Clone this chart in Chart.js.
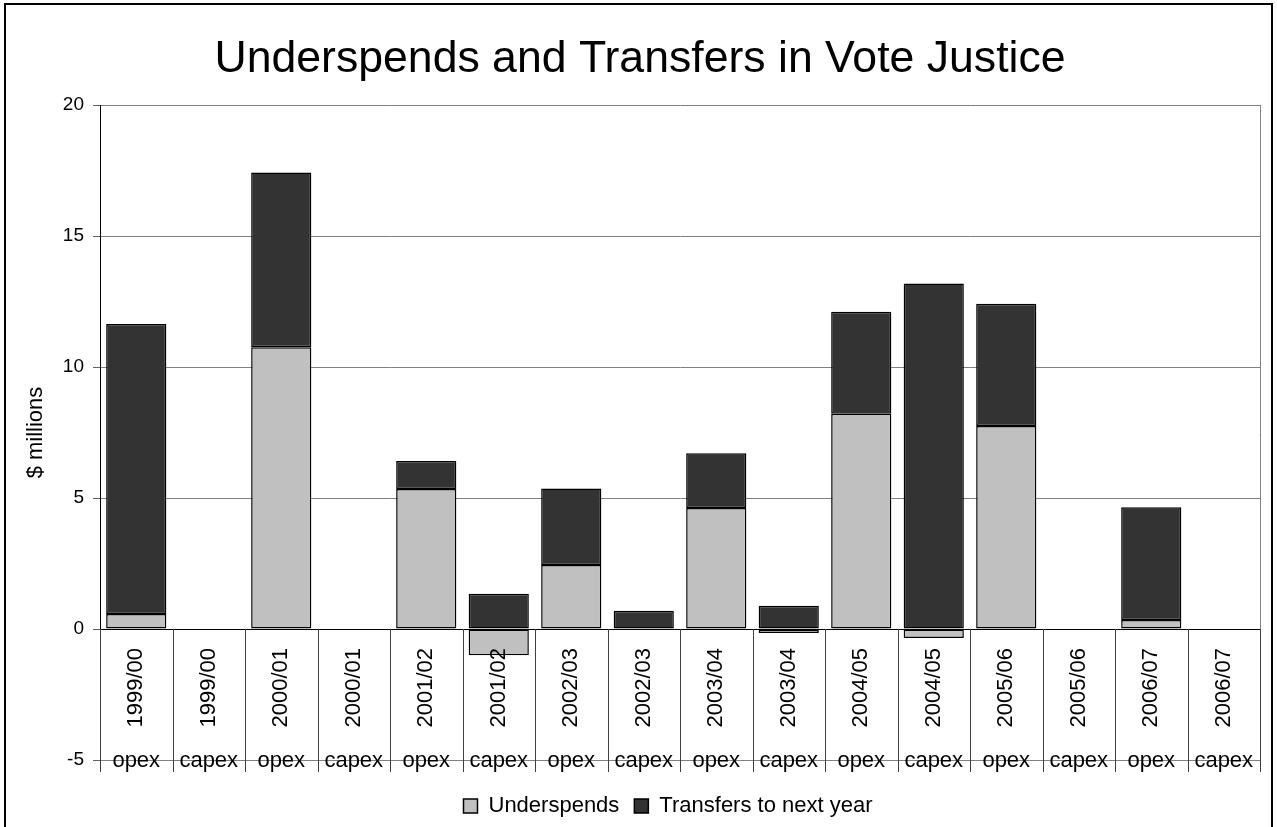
<!DOCTYPE html>
<html lang="en">
<head>
<meta charset="UTF-8">
<title>Underspends and Transfers in Vote Justice</title>
<script src="https://cdn.jsdelivr.net/npm/chart.js"></script>
<style>
  html, body { margin: 0; padding: 0; background: #fff; }
  #wrap { width: 1277px; height: 827px; }
</style>
</head>
<body>
<div id="wrap"><canvas id="chart" width="1277" height="827"></canvas></div>
<script>
const years = ['1999/00', '1999/00', '2000/01', '2000/01', '2001/02', '2001/02', '2002/03', '2002/03',
               '2003/04', '2003/04', '2004/05', '2004/05', '2005/06', '2005/06', '2006/07', '2006/07'];
const spendTypes = ['opex', 'capex', 'opex', 'capex', 'opex', 'capex', 'opex', 'capex',
                    'opex', 'capex', 'opex', 'capex', 'opex', 'capex', 'opex', 'capex'];
// $ millions
const underspends = [0.57, null, 10.75, null, 5.34, -1.0, 2.44, null, 4.62, -0.15, 8.22, -0.34, 7.75, null, 0.34, null];
const transfers   = [11.07, null, 6.67, null, 1.07, 1.35, 2.92, 0.70, 2.09, 0.89, 3.89, 13.19, 4.66, null, 4.31, null];
const yMin = -5, yMax = 20, yStep = 5;

const FONT = "'Liberation Sans', Arial, sans-serif";

// outer frame + right edge of plot area
const frame = {
  id: 'frame',
  beforeDraw(chart) {
    const {ctx, chartArea} = chart;
    ctx.save();
    ctx.fillStyle = '#fff';
    ctx.fillRect(0, 0, chart.width, chart.height);
    ctx.strokeStyle = '#000';
    ctx.lineWidth = 2;
    ctx.beginPath();
    ctx.moveTo(5, chart.height + 5);
    ctx.lineTo(5, 4);
    ctx.lineTo(1272, 4);
    ctx.lineTo(1272, chart.height + 5);
    ctx.stroke();
    ctx.strokeStyle = '#808080';
    ctx.lineWidth = 1;
    ctx.beginPath();
    ctx.moveTo(Math.round(chartArea.right) + 0.5, chartArea.top);
    ctx.lineTo(Math.round(chartArea.right) + 0.5, chartArea.bottom);
    ctx.stroke();
    ctx.restore();
  },
  afterLayout(chart) {
    // Excel puts title and legend a bit right of the canvas centre
    chart.titleBlock.left += 10;
    chart.titleBlock.right += 10;
    chart.legend.left += 38;
    chart.legend.right += 38;
  }
};

// two-level category labels sitting between 0 and -5
const categoryLabels = {
  id: 'categoryLabels',
  afterDatasetsDraw(chart) {
    const {ctx, chartArea, scales: {x, y}} = chart;
    const zero = y.getPixelForValue(0);
    ctx.save();
    ctx.strokeStyle = '#404040';
    ctx.lineWidth = 1;
    ctx.beginPath();
    for (let i = 0; i <= years.length; i++) {
      const px = Math.round(x.getPixelForValue(i - 0.5)) + 0.5;
      ctx.moveTo(px, zero);
      ctx.lineTo(px, chartArea.bottom + 12);
    }
    ctx.stroke();

    ctx.fillStyle = '#000';
    ctx.font = '22px ' + FONT;
    for (let i = 0; i < years.length; i++) {
      const cx = x.getPixelForValue(i);
      ctx.save();
      ctx.translate(cx, zero + 19);
      ctx.rotate(-Math.PI / 2);
      ctx.textAlign = 'right';
      ctx.textBaseline = 'middle';
      ctx.fillText(years[i], 0, 0);
      ctx.restore();

      ctx.textAlign = 'center';
      ctx.textBaseline = 'alphabetic';
      ctx.fillText(spendTypes[i], cx, chartArea.bottom + 7);
    }
    ctx.restore();
  }
};

new Chart(document.getElementById('chart'), {
  type: 'bar',
  data: {
    labels: years,
    datasets: [
      {
        label: 'Underspends',
        data: underspends,
        backgroundColor: '#c0c0c0',
        borderColor: '#000',
        borderWidth: 1.5,
        borderSkipped: false
      },
      {
        label: 'Transfers to next year',
        data: transfers,
        backgroundColor: '#333333',
        borderColor: '#000',
        borderWidth: 1.5,
        borderSkipped: false
      }
    ]
  },
  options: {
    responsive: false,
    animation: false,
    events: [],
    barPercentage: 0.83,
    categoryPercentage: 1,
    layout: { padding: { left: 0, right: 17, top: 0, bottom: 0 } },
    plugins: {
      title: {
        display: true,
        text: 'Underspends and Transfers in Vote Justice',
        color: '#000',
        font: { family: FONT, size: 44.6, weight: 'normal' },
        padding: { top: 32.8, bottom: 18.7 }
      },
      legend: {
        position: 'bottom',
        labels: {
          color: '#000',
          font: { family: FONT, size: 22 },
          boxWidth: 14,
          boxHeight: 14,
          padding: 15
        }
      },
      tooltip: { enabled: false }
    },
    scales: {
      x: {
        stacked: true,
        grid: { display: false },
        border: { display: false },
        ticks: { display: false },
        afterFit: (scale) => { scale.height = 20; }
      },
      y: {
        stacked: true,
        min: yMin,
        max: yMax,
        ticks: {
          stepSize: yStep,
          color: '#000',
          padding: 9,
          font: { family: FONT, size: 19 }
        },
        grid: {
          color: (c) => c.tick && c.tick.value === 0 ? '#000' : '#808080',
          tickLength: 7,
          tickColor: '#606060'
        },
        border: { display: true, color: '#000', width: 1 },
        title: {
          display: true,
          text: '$ millions',
          color: '#000',
          font: { family: FONT, size: 22 },
          padding: { top: 22.8, bottom: 0 }
        },
        afterFit: (scale) => { scale.width = 100; }
      }
    }
  },
  plugins: [frame, categoryLabels]
});
</script>
</body>
</html>
